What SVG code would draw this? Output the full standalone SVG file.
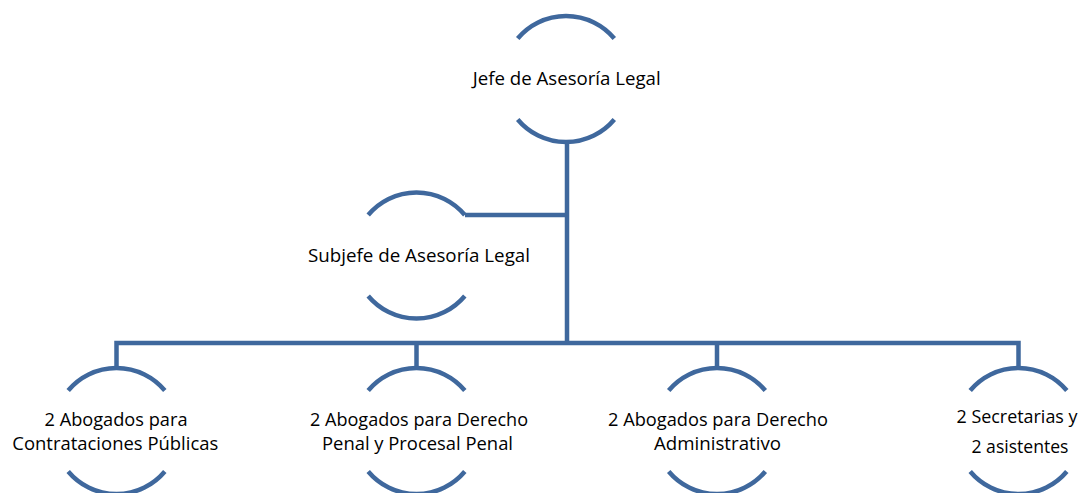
<svg xmlns="http://www.w3.org/2000/svg" width="1083" height="493" viewBox="0 0 1083 493">
<style>
.arc{fill:none;stroke:#3F689D;stroke-width:4.5}
.con{fill:none;stroke:#3F689D;stroke-width:4.5;stroke-linejoin:miter}
text{font-family:"Open Sans",Lato,sans-serif;font-size:18.5px;fill:#000;text-anchor:middle}
</style>
<rect width="1083" height="493" fill="#fff"/>
<g id="connectors">
<path class="con" d="M567 142 V343 M567 215 H465"/>
<path class="con" d="M116.5 368 V343 H1018.5 V368 M416.5 343 V368 M717 343 V368"/>
</g>
<g id="jefe">
<path class="arc" d="M517.7 38.5 A63 63 0 0 1 614.3 38.5 M517.7 119.5 A63 63 0 0 0 614.3 119.5"/>
<text x="566.7" y="85" textLength="188" lengthAdjust="spacingAndGlyphs">Jefe de Asesoría Legal</text>
</g>
<g id="subjefe">
<path class="arc" d="M368.2 215 A63 63 0 0 1 464.8 215 M368.2 296 A63 63 0 0 0 464.8 296"/>
<text x="419" y="262" textLength="222" lengthAdjust="spacingAndGlyphs">Subjefe de Asesoría Legal</text>
</g>
<g id="abogados-contrataciones">
<path class="arc" d="M68.2 390.5 A63 63 0 0 1 164.8 390.5 M68.2 471.5 A63 63 0 0 0 164.8 471.5"/>
<text x="116" y="426" textLength="143" lengthAdjust="spacingAndGlyphs">2 Abogados para</text>
<text x="115.3" y="449.5" textLength="206" lengthAdjust="spacingAndGlyphs">Contrataciones Públicas</text>
</g>
<g id="abogados-penal">
<path class="arc" d="M368.2 390.5 A63 63 0 0 1 464.8 390.5 M368.2 471.5 A63 63 0 0 0 464.8 471.5"/>
<text x="419" y="426" textLength="218" lengthAdjust="spacingAndGlyphs">2 Abogados para Derecho</text>
<text x="417.5" y="449.5" textLength="191" lengthAdjust="spacingAndGlyphs">Penal y Procesal Penal</text>
</g>
<g id="abogados-administrativo">
<path class="arc" d="M668.7 390.5 A63 63 0 0 1 765.3 390.5 M668.7 471.5 A63 63 0 0 0 765.3 471.5"/>
<text x="718" y="426" textLength="220" lengthAdjust="spacingAndGlyphs">2 Abogados para Derecho</text>
<text x="717.5" y="449.5" textLength="127" lengthAdjust="spacingAndGlyphs">Administrativo</text>
</g>
<g id="secretarias">
<path class="arc" d="M970.2 390.5 A63 63 0 0 1 1066.8 390.5 M970.2 471.5 A63 63 0 0 0 1066.8 471.5"/>
<text x="1017" y="423" textLength="121" lengthAdjust="spacingAndGlyphs">2 Secretarias y</text>
<text x="1020" y="453" textLength="97" lengthAdjust="spacingAndGlyphs">2 asistentes</text>
</g>
</svg>
